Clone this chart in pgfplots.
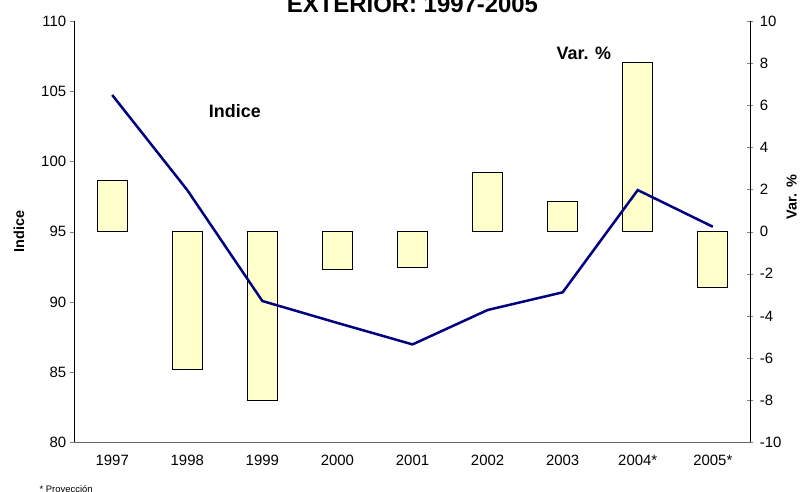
\documentclass[border=0pt]{standalone}
\usepackage{fontspec}
\setmainfont{Liberation Sans}
\usepackage{pgfplots}
\pgfplotsset{compat=1.18}
\definecolor{barfill}{HTML}{FFFFCC}
\definecolor{navyline}{HTML}{000080}

\begin{document}
\begin{tikzpicture}
\path (-74.7bp,-49.5bp) rectangle (725.3bp,442.5bp);
\pgfplotsset{
  common/.style={
    scale only axis, width=676bp, height=421.5bp,
    at={(0bp,0bp)}, anchor=south west,
    xmin=-0.5, xmax=8.5,
    /pgf/number format/assume math mode=true,
    tick label style={font=\fontsize{15}{18}\selectfont},
    label style={font=\fontsize{14.5}{17}\selectfont\bfseries},
    axis line style={-},
  }
}
\begin{axis}[common,
  axis y line*=right, axis x line=none,
  ymin=-10, ymax=10, ytick={-10,-8,...,10},
  tick align=center, major tick length=6bp,
  yticklabel style={xshift=3bp},
  ylabel={Var. \%},
  ylabel style={at={(rel axis cs:1.061,0.582)}, anchor=center},
  ybar, bar width=30bp, bar shift=0pt,
]
\addplot[fill=barfill, draw=black, line width=0.8bp] coordinates {(0,2.41) (1,-6.53) (2,-7.99) (3,-1.77) (4,-1.68) (5,2.83) (6,1.44) (7,8.05) (8,-2.63)};
\end{axis}
\begin{axis}[common,
  clip=false,
  axis y line*=left, axis x line*=bottom,
  ymin=80, ymax=110, ytick={80,85,...,110},
  tick align=outside, major tick length=5bp,
  xtick={0,...,8}, xticklabels={1997,1998,1999,2000,2001,2002,2003,2004*,2005*},
  xtick style={draw=none},
  xticklabel style={yshift=-4bp},
  minor xtick={-0.5,0.5,...,8.5}, minor tick length=5bp,
  x axis line style={black!60},
  minor x tick style={black!60},
  ylabel={Indice},
  ylabel style={at={(rel axis cs:-0.0824,0.5)}, anchor=center},
]
\addplot[navyline, line width=2.5bp] coordinates {(0,104.73) (1,97.96) (2,90.06) (3,88.5) (4,86.97) (5,89.42) (6,90.68) (7,97.96) (8,95.35)};
\node[font=\fontsize{18}{21}\selectfont\bfseries] at (axis cs:1.634,103.56) {Indice};
\node[font=\fontsize{18}{21}\selectfont\bfseries] at (axis cs:6.283,107.7) {Var. \%};
\node[overlay, anchor=base, font=\fontsize{24}{28}\selectfont\bfseries] at (rel axis cs:0.5,1.019) {EXTERIOR: 1997-2005};
\node[overlay, anchor=base west, font=\fontsize{9.5}{11}\selectfont] at (rel axis cs:-0.0572,-0.1185) {* Proyección};
\end{axis}
\end{tikzpicture}
\end{document}
